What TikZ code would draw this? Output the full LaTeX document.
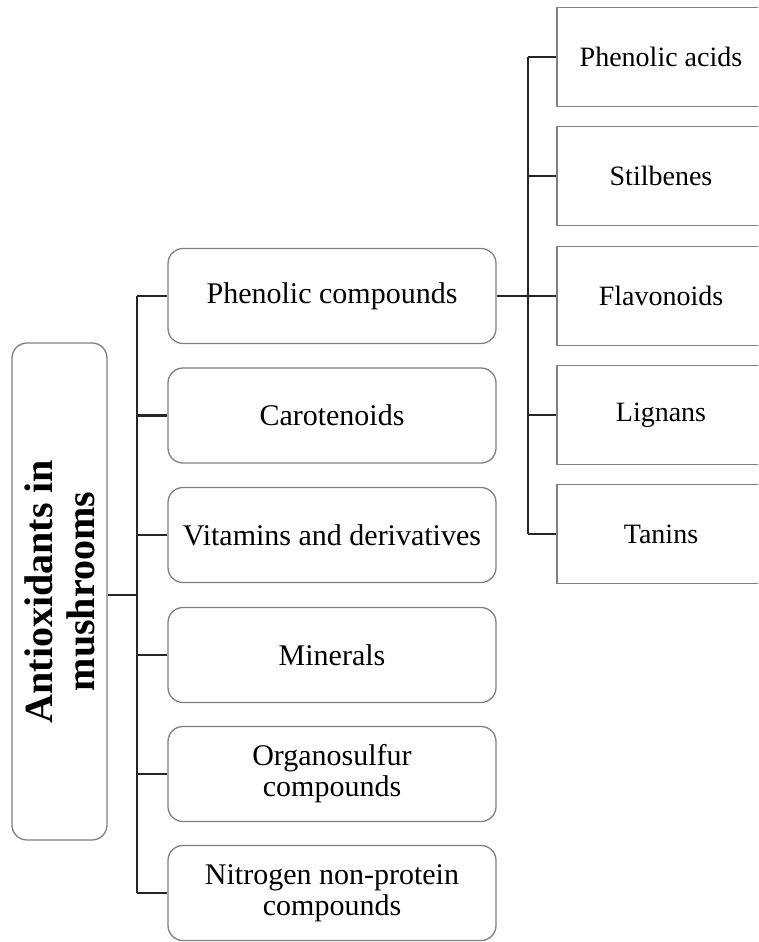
\documentclass[tikz,border=0pt]{standalone}
\usepackage{fontspec}
\setmainfont{Liberation Serif}
\usetikzlibrary{positioning}

\tikzset{
	rootbox/.style={draw=gray, line width=1.3pt, rounded corners=15pt, rotate=90,
					minimum width=497pt, minimum height=95pt, align=center,
					font=\fontsize{40}{42}\selectfont\bfseries},
	groupbox/.style={draw=gray, line width=1.3pt, rounded corners=15pt,
					 minimum width=328pt, minimum height=95pt, align=center,
					 font=\fontsize{30}{31}\selectfont},
	typebox/.style={draw=gray, line width=1.3pt,
					minimum width=208pt, minimum height=99pt, align=center,
					font=\fontsize{28}{30}\selectfont},
	link/.style={draw=black!85, line width=2.5pt}
}

\begin{document}
\begin{tikzpicture}[x=1pt,y=-1pt]
		\useasboundingbox (0,0) rectangle (758,942);
		\clip (0,0) rectangle (758,942);

		\node[rootbox] (root) at (59.5,591.5) {Antioxidants in\\mushrooms};

		\node[groupbox] (phen) at (332,296) {Phenolic compounds};
		\node[groupbox] (caro) at (332,415.5) {Carotenoids};
		\node[groupbox] (vita) at (332,535) {Vitamins and derivatives};
		\node[groupbox] (mine) at (332,655) {Minerals};
		\node[groupbox] (orga) at (332,774) {Organosulfur\\compounds};
		\node[groupbox] (nitr) at (332,893) {Nitrogen non-protein\\compounds};

		\node[typebox] (acid) at (661,57) {Phenolic acids};
		\node[typebox] (stil) at (661,176) {Stilbenes};
		\node[typebox] (flav) at (661,296) {Flavonoids};
		\node[typebox] (lign) at (661,415) {Lignans};
		\node[typebox] (tani) at (661,534) {Tanins};

		\coordinate (hub) at (137,595);
		\coordinate (subhub) at (528,296);

		\path[link] (root.south |- hub) -- (hub);
		\path[link] (hub |- phen.west) -- (hub |- nitr.west);
		\path[link] (hub |- phen.west) -- (phen.west);
		\path[link] (hub |- caro.west) -- (caro.west);
		\path[link] (hub |- vita.west) -- (vita.west);
		\path[link] (hub |- mine.west) -- (mine.west);
		\path[link] (hub |- orga.west) -- (orga.west);
		\path[link] (hub |- nitr.west) -- (nitr.west);

		\path[link] (phen.east) -- (subhub);
		\path[link] (subhub |- acid.west) -- (subhub |- tani.west);
		\path[link] (subhub |- acid.west) -- (acid.west);
		\path[link] (subhub |- stil.west) -- (stil.west);
		\path[link] (subhub |- flav.west) -- (flav.west);
		\path[link] (subhub |- lign.west) -- (lign.west);
		\path[link] (subhub |- tani.west) -- (tani.west);

	\end{tikzpicture}
\end{document}
